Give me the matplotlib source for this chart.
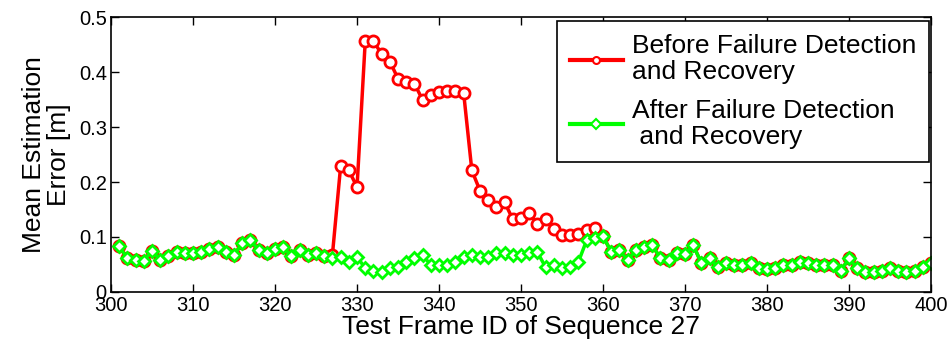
import numpy as np
import matplotlib
matplotlib.use("Agg")
import matplotlib.pyplot as plt

plt.rcParams["font.family"] = ["Liberation Sans", "DejaVu Sans"]

frames = list(range(301, 401))

# after failure detection and recovery (green)
after = [
    0.083, 0.061, 0.058, 0.057, 0.075, 0.058, 0.065, 0.072, 0.070, 0.070,
    0.073, 0.079, 0.082, 0.073, 0.067, 0.089, 0.095, 0.076, 0.070, 0.079,
    0.082, 0.065, 0.076, 0.067, 0.071, 0.065, 0.061, 0.064, 0.055, 0.064,
    0.043, 0.039, 0.036, 0.043, 0.045, 0.055, 0.061, 0.067, 0.049, 0.049,
    0.049, 0.055, 0.064, 0.067, 0.064, 0.064, 0.070, 0.071, 0.068, 0.067,
    0.070, 0.072, 0.045, 0.049, 0.043, 0.045, 0.055, 0.094, 0.099, 0.101,
    0.073, 0.076, 0.058, 0.076, 0.082, 0.085, 0.061, 0.058, 0.070, 0.069,
    0.085, 0.052, 0.061, 0.045, 0.052, 0.049, 0.049, 0.052, 0.043, 0.041,
    0.043, 0.049, 0.049, 0.055, 0.052, 0.049, 0.049, 0.049, 0.039, 0.061,
    0.043, 0.036, 0.036, 0.039, 0.043, 0.039, 0.036, 0.039, 0.045, 0.052,
]

# before failure detection and recovery (red), differs from frame 327 to 359
before_diff = {
    327: 0.068, 328: 0.229, 329: 0.221, 330: 0.191, 331: 0.456, 332: 0.456,
    333: 0.433, 334: 0.419, 335: 0.388, 336: 0.382, 337: 0.379, 338: 0.349,
    339: 0.358, 340: 0.363, 341: 0.365, 342: 0.365, 343: 0.362, 344: 0.221,
    345: 0.184, 346: 0.167, 347: 0.155, 348: 0.163, 349: 0.132, 350: 0.135,
    351: 0.143, 352: 0.124, 353: 0.133, 354: 0.114, 355: 0.103, 356: 0.103,
    357: 0.106, 358: 0.112, 359: 0.117,
}
before = [before_diff.get(f, a) for f, a in zip(frames, after)]

fig = plt.figure(figsize=(9.53, 3.48), dpi=100)
ax = fig.add_axes([0.1165, 0.161, 0.8605, 0.79])

ax.plot(frames, before, color="#ff0000", lw=2.5, marker="o", ms=8,
        mfc="white", mec="#ff0000", mew=2,
        label="Before Failure Detection\nand Recovery")
ax.plot(frames, after, color="#00ff00", lw=2.5, marker="D", ms=6.5,
        mfc="white", mec="#00ff00", mew=2,
        label="After Failure Detection\n and Recovery")

ax.set_xlim(300, 400)
ax.set_ylim(0, 0.5)
ax.set_xticks(range(300, 401, 10))
ax.set_yticks([0, 0.1, 0.2, 0.3, 0.4, 0.5])
ax.set_yticklabels(["0", "0.1", "0.2", "0.3", "0.4", "0.5"])
ax.tick_params(direction="in", top=True, right=True, labelsize=14.5,
               length=6, width=1, pad=3)
for s in ax.spines.values():
    s.set_linewidth(1.2)

ax.set_xlabel("Test Frame ID of Sequence 27", fontsize=19, labelpad=0)
ax.set_ylabel("Mean Estimation\nError [m]", fontsize=19, labelpad=6,
              linespacing=1.05)

leg = ax.legend(loc="upper right", fontsize=19, fancybox=False,
                framealpha=1, edgecolor="black",
                bbox_to_anchor=(0.998, 0.985), borderaxespad=0.0,
                handlelength=2.0, handletextpad=0.35, labelspacing=0.55,
                borderpad=0.5)
leg.get_frame().set_linewidth(1.2)
for h in leg.legend_handles:
    h.set_markersize(5)
    h.set_markeredgewidth(1.5)
    h.set_linewidth(3)
for t in leg.get_texts():
    t.set_linespacing(1.1)

fig.savefig("out.png", dpi=100)
